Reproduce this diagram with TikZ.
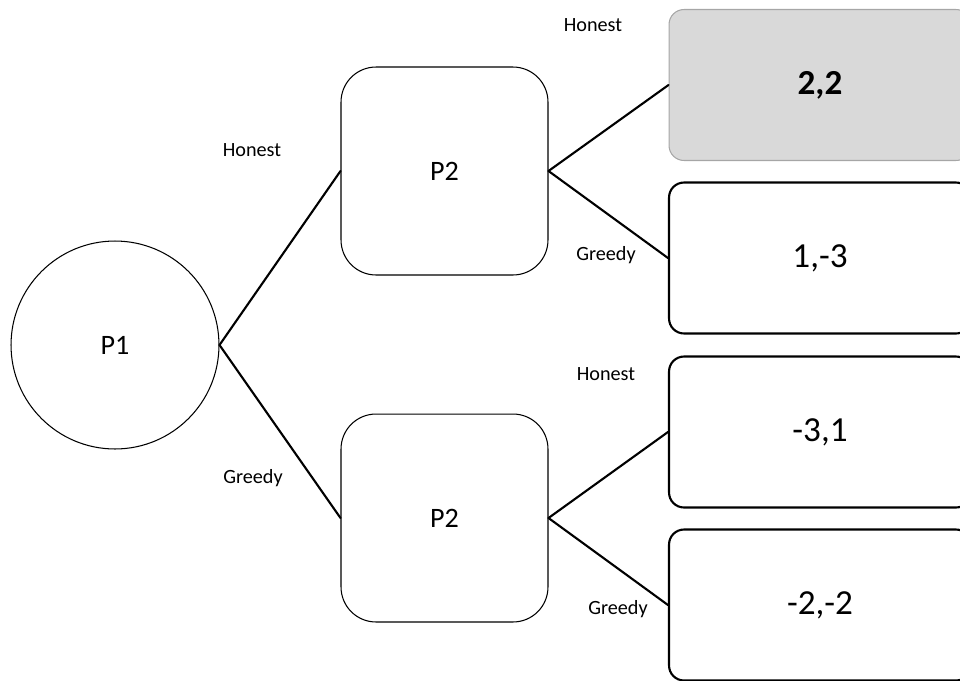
\documentclass[tikz,border=0pt]{standalone}
\usepackage{fontspec}
\setmainfont{Carlito}
\usepackage{tikz}
\usetikzlibrary{positioning}
\definecolor{ink}{HTML}{000000}
\definecolor{shade}{HTML}{D9D9D9}
\definecolor{rim}{HTML}{A6A6A6}
\tikzset{
  edge/.style={draw=ink, line width=1.2pt, line cap=round},
  player/.style={draw=ink, line width=0.6pt, rounded corners=0.7cm, minimum width=4.14cm, minimum height=4.16cm, font=\fontsize{16}{19}\selectfont},
  start/.style={circle, draw=ink, line width=0.6pt, minimum size=4.16cm, font=\fontsize{16}{19}\selectfont},
  payoff/.style={draw=ink, line width=1.2pt, rounded corners=0.3cm, minimum width=6.04cm, minimum height=3.02cm, font=\fontsize{20}{24}\selectfont},
  best/.style={payoff, fill=shade, draw=rim, line width=0.6pt, font=\bfseries\fontsize{20}{24}\selectfont},
  move/.style={font=\fontsize{11.5}{14}\selectfont},
}
\begin{document}
\begin{tikzpicture}[x=0.02cm, y=-0.02cm]
  \useasboundingbox (0,0) rectangle (960,680);
  \clip (0,0) rectangle (960,680);
  % players
  \node[start] (p1) at (115,345) {P1};
  \node[player] (p2top) at (444.5,171) {P2};
  \node[player] (p2bot) at (444.5,518) {P2};
  % outcomes
  \node[best] (hh) at (820,85) {2,2};
  \node[payoff] (hg) at (820,258) {1,-3};
  \node[payoff] (gh) at (820,432) {-3,1};
  \node[payoff] (gg) at (820,605) {-2,-2};
  % moves
  \draw[edge] (p1.east) -- (p2top.west);
  \draw[edge] (p1.east) -- (p2bot.west);
  \draw[edge] (p2top.east) -- (hh.west);
  \draw[edge] (p2top.east) -- (hg.west);
  \draw[edge] (p2bot.east) -- (gh.west);
  \draw[edge] (p2bot.east) -- (gg.west);
  \node[move] (l1) at (252,150) {Honest};
  \node[move] (l2) at (253,478) {Greedy};
  \node[move] (l3) at (593,25) {Honest};
  \node[move] (l4) at (606,255) {Greedy};
  \node[move] (l5) at (606,374) {Honest};
  \node[move] (l6) at (618,609) {Greedy};
\end{tikzpicture}
\end{document}
